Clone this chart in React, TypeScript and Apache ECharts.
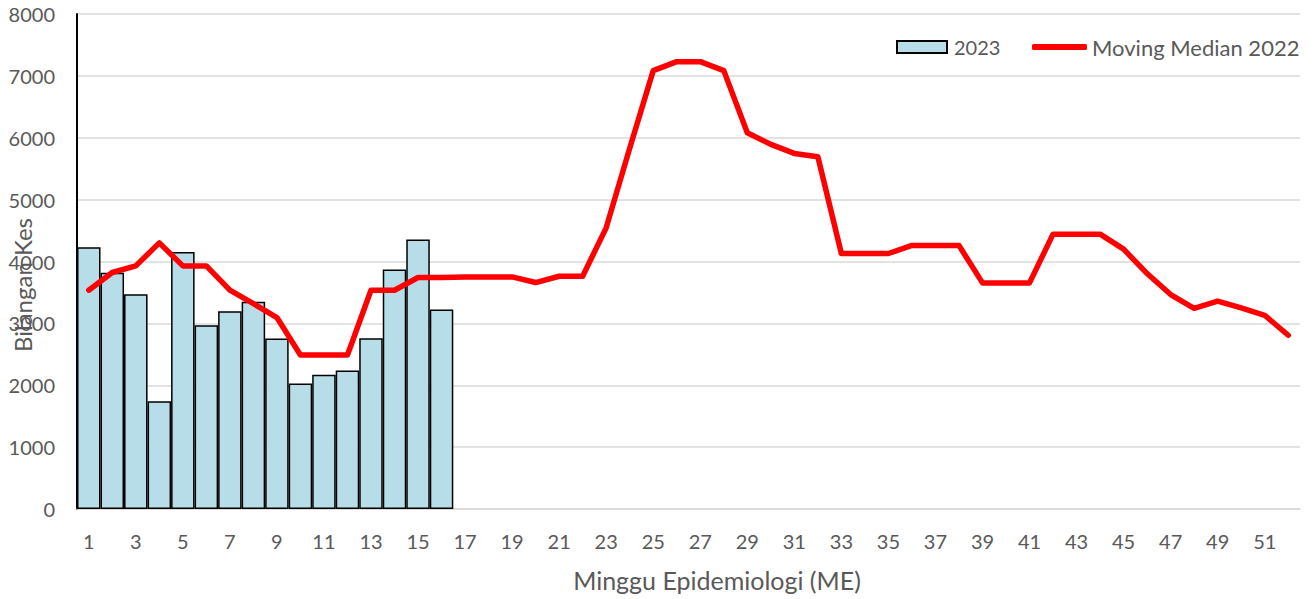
import React, { useEffect, useRef } from "react";
import * as echarts from "echarts";

const weeks: string[] = Array.from({ length: 52 }, (_, i) => String(i + 1));

const cases2023: number[] = [
  4230, 3820, 3470, 1740, 4155, 2970, 3195, 3350, 2755, 2030, 2170, 2240, 2760, 3870, 4355, 3225,
];

const movingMedian2022: number[] = [
  3536, 3822, 3929, 4301, 3929, 3929, 3536, 3320, 3094, 2489,
  2489, 2489, 3536, 3536, 3741, 3741, 3751, 3751, 3751, 3660,
  3762, 3762, 4544, 5830, 7085, 7230, 7230, 7085, 6081, 5893,
  5747, 5693, 4129, 4129, 4129, 4259, 4259, 4259, 3654, 3654,
  3654, 4442, 4442, 4442, 4199, 3805, 3466, 3244, 3358, 3249,
  3131, 2808,
];

const yTicks = { min: 0, max: 8000, interval: 1000 };

const FONT = "Lato";
const TEXT_COLOR = "#595959";

export default function App() {
  const ref = useRef<HTMLDivElement>(null);

  useEffect(() => {
    if (!ref.current) return;
    const chart = echarts.init(ref.current, undefined, { renderer: "svg" });
    chart.setOption({
      animation: false,
      backgroundColor: "#ffffff",
      textStyle: { fontFamily: FONT },
      grid: { left: 77, right: 13, top: 14, bottom: 90, containLabel: false },
      legend: [
        {
          left: 891,
          top: 32,
          itemWidth: 50,
          itemHeight: 12,
          textStyle: { fontFamily: FONT, fontSize: 20, color: TEXT_COLOR, padding: [0, 0, 0, 2] },
          data: [{ name: "2023", icon: "rect" }],
        },
        {
          left: 1027,
          top: 31,
          itemWidth: 55,
          itemHeight: 6,
          textStyle: { fontFamily: FONT, fontSize: 22, color: TEXT_COLOR, padding: [0, 0, 0, 0] },
          data: [
            {
              name: "Moving Median 2022",
              icon: "roundRect",
              itemStyle: { color: "#ff0000", borderWidth: 0 },
            },
          ],
        },
      ],
      xAxis: {
        type: "category",
        data: weeks,
        boundaryGap: true,
        axisLine: { show: true, lineStyle: { color: "#d9d9d9", width: 1.5 } },
        axisTick: { show: false },
        axisLabel: {
          interval: 1,
          margin: 22,
          fontFamily: FONT,
          fontSize: 20,
          color: TEXT_COLOR,
        },
        splitLine: { show: false },
      },
      yAxis: {
        type: "value",
        min: yTicks.min,
        max: yTicks.max,
        interval: yTicks.interval,
        axisLine: { show: true, lineStyle: { color: "#000000", width: 2 } },
        axisTick: { show: false },
        axisLabel: {
          margin: 22,
          fontFamily: FONT,
          fontSize: 20,
          color: TEXT_COLOR,
          formatter: (v: number) => String(v),
        },
        splitLine: { show: true, lineStyle: { color: "#d9d9d9", width: 1.5 } },
      },
      graphic: [
        {
          type: "text",
          x: 22,
          y: 285,
          rotation: Math.PI / 2,
          style: {
            text: "Bilangan Kes",
            fontFamily: FONT,
            fontSize: 24,
            fill: TEXT_COLOR,
            align: "center",
            verticalAlign: "middle",
          },
        },
        {
          type: "text",
          x: 717,
          y: 580,
          style: {
            text: "Minggu Epidemiologi (ME)",
            fontFamily: FONT,
            fontSize: 25,
            fill: TEXT_COLOR,
            align: "center",
            verticalAlign: "middle",
          },
        },
      ],
      series: [
        {
          name: "2023",
          type: "bar",
          data: cases2023,
          barCategoryGap: "0%",
          itemStyle: { color: "#b7dde8", borderColor: "#000000", borderWidth: 1.5 },
          z: 2,
        },
        {
          name: "Moving Median 2022",
          type: "line",
          data: movingMedian2022,
          showSymbol: false,
          symbol: "none",
          lineStyle: { color: "#ff0000", width: 5.5, join: "round", cap: "round" },
          itemStyle: { color: "#ff0000" },
          z: 3,
        },
      ],
    });
    return () => chart.dispose();
  }, []);

  return (
    <div
      ref={ref}
      style={{ position: "absolute", left: 0, top: 0, width: 1313, height: 599 }}
    />
  );
}
